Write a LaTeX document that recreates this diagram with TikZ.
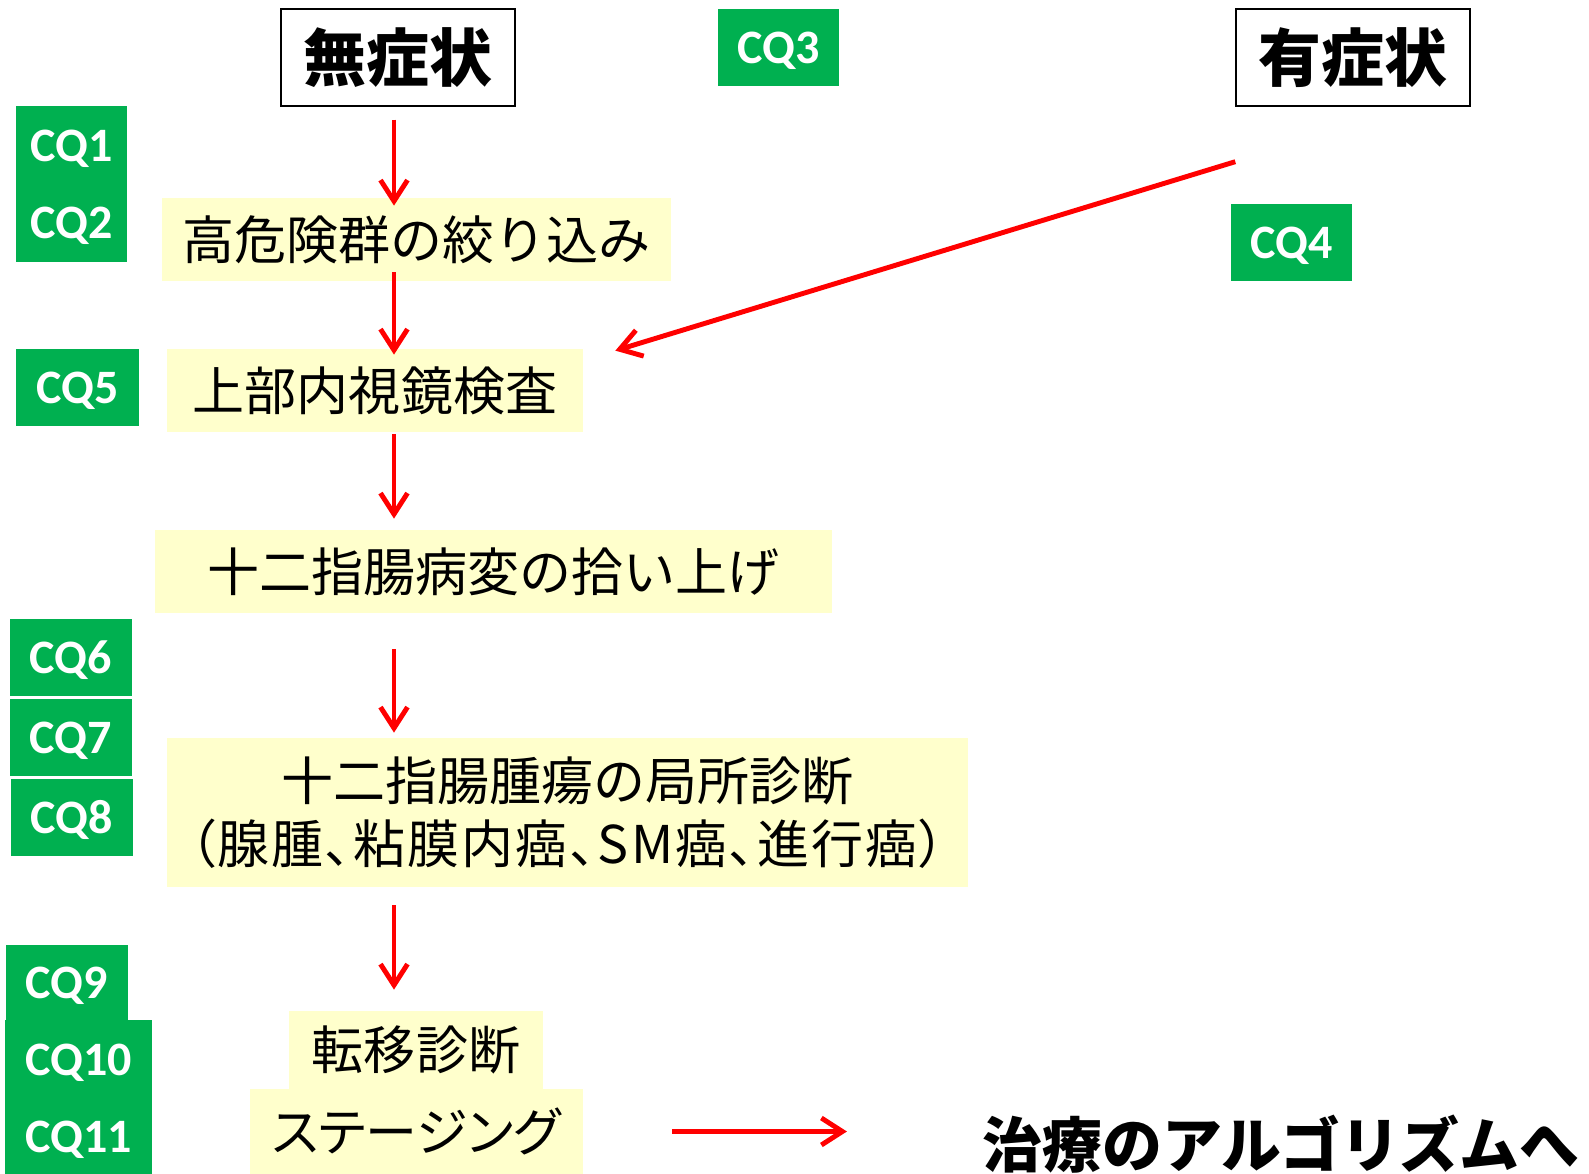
\documentclass[tikz,border=0pt]{standalone}
\usepackage{fontspec}
\usepackage{xcolor}
\usetikzlibrary{arrows.meta}
\newfontfamily\jpfont{Noto Sans CJK JP}
\newfontfamily\jpfontp[RawFeature=+palt]{Noto Sans CJK JP}
\newfontfamily\jpfontw[RawFeature=+palt, LetterSpace=4]{Noto Sans CJK JP}
\newfontfamily\cqfont{Carlito}
\definecolor{cqgreen}{HTML}{00B050}
\definecolor{boxyellow}{HTML}{FFFFCC}
\definecolor{arrowred}{HTML}{FF0000}

\begin{document}
\begin{tikzpicture}[>={Straight Barb[length=0.42cm,width=0.54cm]}]
% Define styles
\tikzstyle{cqbox} = [fill=cqgreen, text=white, font=\cqfont\bfseries\fontsize{27.3}{43.8}\selectfont, inner sep=0pt, text depth=0pt, align=center, minimum width=2.42cm, minimum height=1.54cm]
\tikzstyle{stepbox} = [fill=boxyellow, inner sep=0pt, align=center, minimum height=1.66cm, font=\jpfont\fontsize{29.6}{35.8}\selectfont]
\tikzstyle{headbox} = [draw, line width=0.8pt, fill=white, inner sep=0pt, minimum width=4.68cm, minimum height=1.94cm, font=\jpfont\bfseries\fontsize{35.8}{40}\selectfont]
\tikzstyle{redline} = [->, arrowred, line width=2.8pt]
\useasboundingbox (0,0) rectangle (31.78,-23.48);
% Define nodes
\node[headbox] (asym) at (7.96,-1.15) {無症状};
\node[headbox] (sym) at (27.06,-1.15) {有症状};
\node[cqbox] (cq3) at (15.57,-0.95) {CQ3};
\node[cqbox, minimum width=2.22cm, minimum height=3.12cm] (cq12) at (1.43,-3.68) {CQ1\\CQ2};
\node[stepbox, minimum width=10.18cm] (highrisk) at (8.33,-4.79) {高危険群の絞り込み};
\node[cqbox] (cq4) at (25.83,-4.86) {CQ4};
\node[cqbox, minimum width=2.46cm] (cq5) at (1.55,-7.75) {CQ5};
\node[stepbox, minimum width=8.32cm] (egd) at (7.5,-7.81) {上部内視鏡検査};
\node[stepbox, minimum width=13.54cm] (pickup) at (9.87,-11.43) {十二指腸病変の拾い上げ};
\node[cqbox, minimum width=2.44cm] (cq6) at (1.42,-13.15) {CQ6};
\node[cqbox, minimum width=2.44cm] (cq7) at (1.42,-14.75) {CQ7};
\node[cqbox, minimum width=2.44cm] (cq8) at (1.44,-16.34) {CQ8};
\node[stepbox, minimum width=16.02cm, minimum height=2.98cm] (tumor) at (11.35,-16.25) {十二指腸腫瘍の局所診断\\{\jpfontw （腺腫、粘膜内癌、SM癌、進行癌）}};
\node[cqbox, minimum width=2.44cm, minimum height=1.52cm] (cq9) at (1.34,-19.65) {CQ9};
\node[cqbox, minimum width=2.94cm, minimum height=3.12cm] (cq1011) at (1.57,-21.96) {CQ10\\CQ11};
\node[stepbox, minimum width=5.08cm, minimum height=1.56cm] (meta) at (8.32,-21.0) {転移診断};
\node[stepbox, minimum width=6.66cm, minimum height=1.7cm, font=\jpfontp\fontsize{29.6}{35.8}\selectfont] (staging) at (8.33,-22.63) {ステージング};
\node[font=\jpfont\bfseries\fontsize{34.1}{40}\selectfont, inner sep=0pt] (algo) at (25.62,-22.88) {治療のアルゴリズムへ};
\coordinate (spine) at (7.88,0);
% Connect the nodes
\draw[redline] ([yshift=-0.26cm]asym.south -| spine) -- ([yshift=-0.16cm]highrisk.north -| spine);
\draw[redline] ([yshift=0.18cm]highrisk.south -| spine) -- ([yshift=-0.12cm]egd.north -| spine);
\draw[redline] ([yshift=-0.04cm]egd.south -| spine) -- ([yshift=0.22cm]pickup.north -| spine);
\draw[redline] ([yshift=-0.72cm]pickup.south -| spine) -- ([yshift=0.1cm]tumor.north -| spine);
\draw[redline] ([yshift=-0.36cm]tumor.south -| spine) -- ([yshift=0.42cm]meta.north -| spine);
\draw[redline] ([yshift=-1.1cm]sym.south west) -- ([xshift=0.64cm,yshift=-0.04cm]egd.north east);
\draw[redline] ([xshift=1.78cm]staging.east) -- ([xshift=-2.7cm]staging.east -| algo.west);
\end{tikzpicture}
\end{document}
